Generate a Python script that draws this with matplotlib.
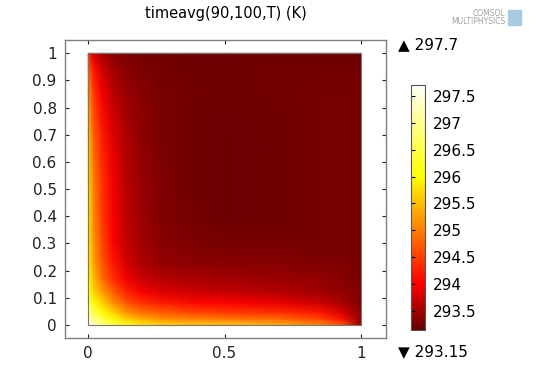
import numpy as np
import matplotlib
matplotlib.use("Agg")
import matplotlib.pyplot as plt
from matplotlib.colors import LinearSegmentedColormap, Normalize
from matplotlib.cm import ScalarMappable
from matplotlib.patches import Rectangle

x_nodes = [0, 0.02, 0.05, 0.09, 0.14, 0.2, 0.27, 0.38, 0.5, 0.7, 0.85, 0.93, 1.0]
y_nodes = [0, 0.02, 0.045, 0.08, 0.12, 0.17, 0.23, 0.3, 0.4, 0.55, 0.7, 0.85, 0.95, 1.0]

# time averaged temperature (K), rows = y from bottom to top
T = [
    [297.7, 297.3, 296.9, 296.5, 296.1, 295.85, 295.7, 295.6, 295.6, 295.4, 295.1, 294.7, 293.4],
    [297.3, 297.0, 296.6, 296.1, 295.7, 295.4, 295.2, 295.1, 295.0, 294.9, 294.6, 294.2, 293.4],
    [296.9, 296.6, 296.1, 295.7, 295.2, 294.9, 294.75, 294.6, 294.5, 294.4, 294.2, 293.8, 293.35],
    [296.5, 296.1, 295.7, 295.2, 294.7, 294.4, 294.25, 294.1, 294.05, 293.9, 293.75, 293.55, 293.3],
    [296.2, 295.7, 295.3, 294.8, 294.3, 294.0, 293.85, 293.75, 293.7, 293.6, 293.5, 293.4, 293.3],
    [296.0, 295.5, 294.9, 294.4, 293.95, 293.7, 293.6, 293.55, 293.5, 293.45, 293.4, 293.35, 293.25],
    [295.9, 295.3, 294.7, 294.2, 293.78, 293.55, 293.42, 293.38, 293.35, 293.33, 293.3, 293.3, 293.25],
    [295.8, 295.2, 294.6, 294.05, 293.67, 293.47, 293.35, 293.28, 293.27, 293.25, 293.25, 293.25, 293.25],
    [295.8, 295.1, 294.5, 294.0, 293.65, 293.45, 293.32, 293.24, 293.2, 293.22, 293.25, 293.25, 293.25],
    [295.7, 295.0, 294.4, 293.95, 293.6, 293.42, 293.3, 293.22, 293.2, 293.22, 293.25, 293.25, 293.25],
    [295.5, 294.8, 294.25, 293.85, 293.55, 293.38, 293.28, 293.22, 293.2, 293.22, 293.25, 293.25, 293.25],
    [295.2, 294.5, 294.0, 293.65, 293.45, 293.33, 293.26, 293.23, 293.22, 293.23, 293.25, 293.25, 293.25],
    [294.8, 294.15, 293.75, 293.47, 293.34, 293.28, 293.25, 293.22, 293.22, 293.23, 293.23, 293.23, 293.23],
    [294.2, 293.8, 293.5, 293.35, 293.28, 293.25, 293.22, 293.2, 293.2, 293.2, 293.2, 293.2, 293.2],
]

t_min, t_max = 293.15, 297.7
cbar_ticks = [293.5, 294, 294.5, 295, 295.5, 296, 296.5, 297, 297.5]
axis_ticks = [0, 0.1, 0.2, 0.3, 0.4, 0.5, 0.6, 0.7, 0.8, 0.9, 1]

# COMSOL-like thermal colormap (dark red -> red -> yellow -> white)
thermal = LinearSegmentedColormap.from_list("thermal", [
    (0.00, (0.40, 0.00, 0.00)),
    (0.19, (1.00, 0.00, 0.00)),
    (0.41, (1.00, 0.50, 0.00)),
    (0.63, (1.00, 1.00, 0.00)),
    (1.00, (1.00, 1.00, 0.97)),
])
norm = Normalize(t_min, t_max)

fig = plt.figure(figsize=(5.5, 3.68), dpi=100)
ax = fig.add_axes([65 / 550, 30 / 368, 321 / 550, 298 / 368])

X, Y = np.meshgrid(x_nodes, y_nodes)
ax.pcolormesh(X, Y, np.array(T), cmap=thermal, norm=norm, shading="gouraud")
ax.add_patch(Rectangle((0, 0), 1, 1, fill=False, edgecolor="#777777", lw=0.8))

ax.set_xlim(-0.085, 1.092)
ax.set_ylim(-0.048, 1.049)
ax.set_xticks([0, 0.5, 1])
ax.set_xticklabels(["0", "0.5", "1"])
ax.set_yticks(axis_ticks)
ax.set_yticklabels([f"{v:g}" for v in axis_ticks])
ax.tick_params(direction="in", top=True, right=True, length=3, width=0.8,
               labelsize=11, colors="#222222", pad=6)
for s in ax.spines.values():
    s.set_edgecolor("#808080")
    s.set_linewidth(1.0)
ax.set_title("timeavg(90,100,T) (K)", fontsize=10.5, pad=16)

# colorbar
cax = fig.add_axes([411 / 550, 38 / 368, 14 / 550, 245 / 368])
cb = fig.colorbar(ScalarMappable(norm=norm, cmap=thermal), cax=cax, ticks=cbar_ticks)
cb.ax.set_yticklabels([f"{v:g}" for v in cbar_ticks])
cb.ax.tick_params(direction="in", left=True, right=False, length=3, width=0.8,
                  labelsize=11, pad=6)
cb.outline.set_edgecolor("#555555")

fig.text(398 / 550, 1 - 45 / 368, f"▲ {t_max:g}", fontsize=11, va="center")
fig.text(398 / 550, 1 - 352 / 368, f"▼ {t_min:g}", fontsize=11, va="center")

# logo
fig.text(505 / 550, 1 - 13 / 368, "COMSOL", fontsize=5.5, color="#a0a0a0",
         ha="right", va="center")
fig.text(505 / 550, 1 - 21 / 368, "MULTIPHYSICS", fontsize=5.5, color="#a0a0a0",
         ha="right", va="center")
fig.patches.append(Rectangle((508 / 550, 1 - 25 / 368), 13 / 550, 15 / 368,
                             transform=fig.transFigure, color="#a9cbe2"))

fig.savefig("out.png", dpi=100)
